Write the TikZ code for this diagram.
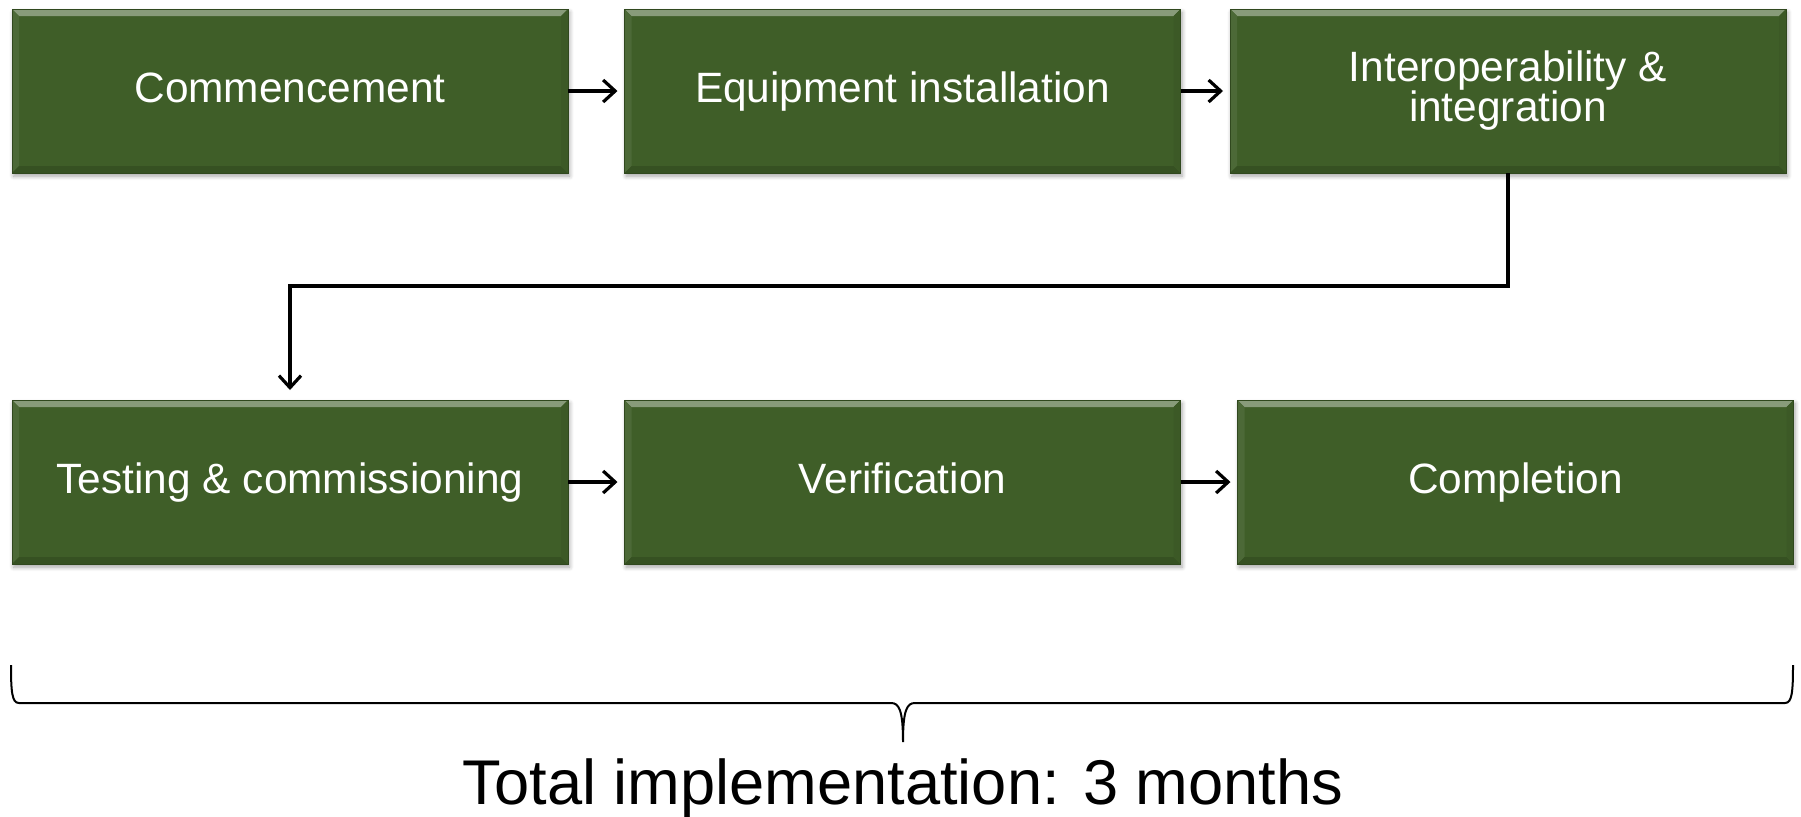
\documentclass[tikz,border=0pt]{standalone}
\usepackage{fontspec}
\setmainfont{Liberation Sans}
\usepackage{tikz}
\usetikzlibrary{arrows.meta,shadows.blur,calc}
\usepackage{xcolor}
\definecolor{boxgreen}{RGB}{63,94,40}
\definecolor{boxedge}{RGB}{48,72,30}

\begin{document}
\begin{tikzpicture}[x=0.5pt,y=-0.5pt,
    stage/.style={rectangle, fill=boxgreen, draw=boxedge, line width=0.4pt,
        minimum width=278pt, minimum height=82pt, inner sep=0pt, outer sep=0pt,
        text=white, font=\fontsize{21.2}{20}\selectfont, align=center,
        blur shadow={shadow xshift=0.8pt, shadow yshift=-1.6pt, shadow blur steps=6, shadow opacity=35},
        path picture={
            \fill[boxgreen!62!white] (path picture bounding box.north west) -- (path picture bounding box.north east)
                -- ([xshift=-3.5pt,yshift=-3.5pt]path picture bounding box.north east) -- ([xshift=3.5pt,yshift=-3.5pt]path picture bounding box.north west) -- cycle;
            \fill[boxgreen!93!white] (path picture bounding box.north west) -- ([xshift=3.5pt,yshift=-3.5pt]path picture bounding box.north west)
                -- ([xshift=3.5pt,yshift=3.5pt]path picture bounding box.south west) -- (path picture bounding box.south west) -- cycle;
            \fill[boxgreen!86!black] (path picture bounding box.south west) -- (path picture bounding box.south east)
                -- ([xshift=-3.5pt,yshift=3.5pt]path picture bounding box.south east) -- ([xshift=3.5pt,yshift=3.5pt]path picture bounding box.south west) -- cycle;
            \fill[boxgreen!95!black] (path picture bounding box.north east) -- ([xshift=-3.5pt,yshift=-3.5pt]path picture bounding box.north east)
                -- ([xshift=-3.5pt,yshift=3.5pt]path picture bounding box.south east) -- (path picture bounding box.south east) -- cycle;
        }},
    oneline/.style={text height=17pt, text depth=5.3pt},
    flow/.style={line width=1.6pt, -{Straight Barb[length=6pt,width=11pt,line width=1.6pt]}, shorten >=3.5pt},
    brace/.style={line width=1pt}]

    \useasboundingbox (0,0) rectangle (1801,816);

    % Row 1
    \node[stage, oneline] (commence) at (290,91) {Commencement};
    \node[stage, oneline] (install) at (902.5,91) {Equipment installation};
    \node[stage] (interop) at (1508,91) {Interoperability \&\\integration};

    % Row 2
    \node[stage, oneline] (testing) at (290,482) {Testing \& commissioning};
    \node[stage, oneline] (verify) at (902.5,482) {Verification};
    \node[stage, oneline] (complete) at (1515.5,482) {Completion};

    % Connectors
    \draw[flow] (commence) -- (install);
    \draw[flow] (install) -- (interop);
    \draw[flow, shorten >=5pt] (interop.south) -- ++(0,113) -| (testing.north);
    \draw[flow] (testing) -- (verify);
    \draw[flow] (verify) -- (complete);

    % Brace and total
    \draw[brace] (11,665) .. controls (11,692) and (12,703) .. (19,703) -- (891,703)
        .. controls (899,703) and (903,710) .. (903,742)
        .. controls (903,710) and (907,703) .. (915,703) -- (1785,703)
        .. controls (1792,703) and (1793,692) .. (1793,665);
    \node[anchor=base, font=\fontsize{31.6}{36}\selectfont] (total) at (903,804) {Total implementation: 3 months};
\end{tikzpicture}
\end{document}
